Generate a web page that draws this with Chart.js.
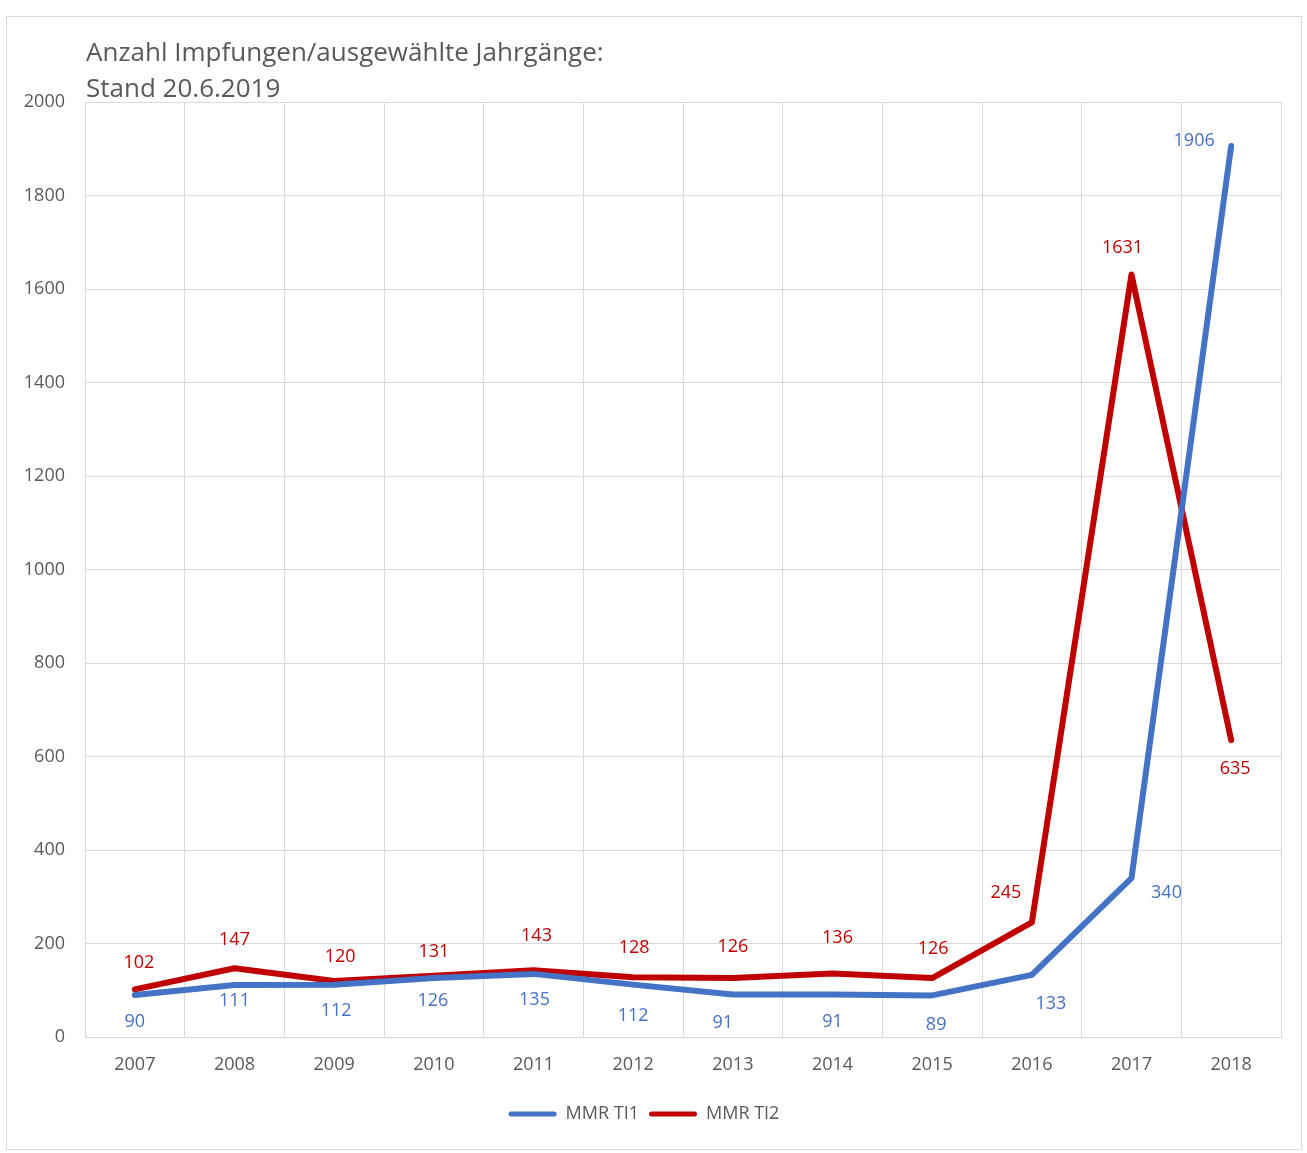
<!DOCTYPE html>
<html>
<head>
<meta charset="utf-8">
<script src="https://cdn.jsdelivr.net/npm/chart.js@4.4.1/dist/chart.umd.min.js"></script>
<style>
  html, body { margin: 0; padding: 0; background: #fff; }
  #box { position: absolute; left: 6px; top: 16px; width: 1296px; height: 1134px;
         border: 1px solid #d9d9d9; box-sizing: border-box; }
  #chart { display: block; }
</style>
</head>
<body>
<div id="box"><canvas id="chart" width="1294" height="1132"></canvas></div>
<script>
const years = ['2007', '2008', '2009', '2010', '2011', '2012', '2013', '2014', '2015', '2016', '2017', '2018'];
const mmrTi1 = [90, 111, 112, 126, 135, 112, 91, 91, 89, 133, 340, 1906];
const mmrTi2 = [102, 147, 120, 131, 143, 128, 126, 136, 126, 245, 1631, 635];
const titleLines = ['Anzahl Impfungen/ausgewählte Jahrgänge:', 'Stand 20.6.2019'];

const BLUE = '#4472C4';
const RED = '#C00000';
const GREY = '#595959';
const FONT = '"Open Sans", sans-serif';

// where each value label sits relative to its point
const labelShift = [
  [[0, 27], [0, 16], [2, 26], [-1, 23], [1, 26], [0, 31], [-10, 28], [0, 27], [4, 29], [19, 29], [35, 15], [-37, -5]],
  [[4, -26], [0, -28], [6, -24], [0, -24], [3, -34], [1, -29], [0, -31], [5, -36], [1, -29], [-26, -30], [-9, -27], [4, 29]]
];

const valueLabels = {
  id: 'valueLabels',
  afterDatasetsDraw(chart) {
    const ctx = chart.ctx;
    ctx.save();
    ctx.font = '18px ' + FONT;
    ctx.textAlign = 'center';
    ctx.textBaseline = 'middle';
    chart.data.datasets.forEach((ds, i) => {
      ctx.fillStyle = ds.borderColor;
      chart.getDatasetMeta(i).data.forEach((pt, j) => {
        const s = labelShift[i][j];
        ctx.fillText(String(ds.data[j]), pt.x + s[0], pt.y + s[1]);
      });
    });
    ctx.restore();
  }
};

const titleText = {
  id: 'titleText',
  afterDraw(chart) {
    const ctx = chart.ctx;
    ctx.save();
    ctx.font = '26px ' + FONT;
    ctx.fillStyle = GREY;
    ctx.textBaseline = 'middle';
    ctx.fillText(titleLines[0], 79, 37);
    ctx.fillText(titleLines[1], 79, 73);
    ctx.restore();
  }
};

new Chart(document.getElementById('chart'), {
  type: 'line',
  data: {
    labels: years,
    datasets: [
      { label: 'MMR TI1', data: mmrTi1, borderColor: BLUE, backgroundColor: BLUE },
      { label: 'MMR TI2', data: mmrTi2, borderColor: RED, backgroundColor: RED }
    ]
  },
  options: {
    responsive: false,
    animation: false,
    layout: { padding: { top: 85, right: 20, bottom: 16, left: 0 } },
    elements: {
      line: { borderWidth: 6, tension: 0, borderJoinStyle: 'round', borderCapStyle: 'round' },
      point: { radius: 0, hoverRadius: 0 }
    },
    scales: {
      x: {
        offset: true,
        grid: { offset: true, color: '#d9d9d9', drawTicks: false },
        border: { color: '#d9d9d9' },
        ticks: { color: GREY, font: { family: FONT, size: 18 }, padding: 17 },
        afterFit(scale) { scale.height = 58; }
      },
      y: {
        min: 0, max: 2000,
        ticks: { stepSize: 200, color: GREY, font: { family: FONT, size: 18 }, padding: 20,
                 callback: v => String(v) },
        grid: { color: '#d9d9d9', drawTicks: false },
        border: { color: '#d9d9d9' },
        afterFit(scale) { scale.width = 78; }
      }
    },
    plugins: {
      tooltip: { enabled: false },
      legend: {
        position: 'bottom',
        labels: {
          color: GREY,
          font: { family: FONT, size: 18 },
          boxWidth: 48,
          boxHeight: 5,
          padding: 10,
          useBorderRadius: true,
          borderRadius: 2.5,
          generateLabels(chart) {
            return Chart.defaults.plugins.legend.labels.generateLabels(chart)
              .map(l => Object.assign(l, { lineWidth: 0, fillStyle: l.strokeStyle }));
          }
        }
      }
    }
  },
  plugins: [valueLabels, titleText]
});
</script>
</body>
</html>
